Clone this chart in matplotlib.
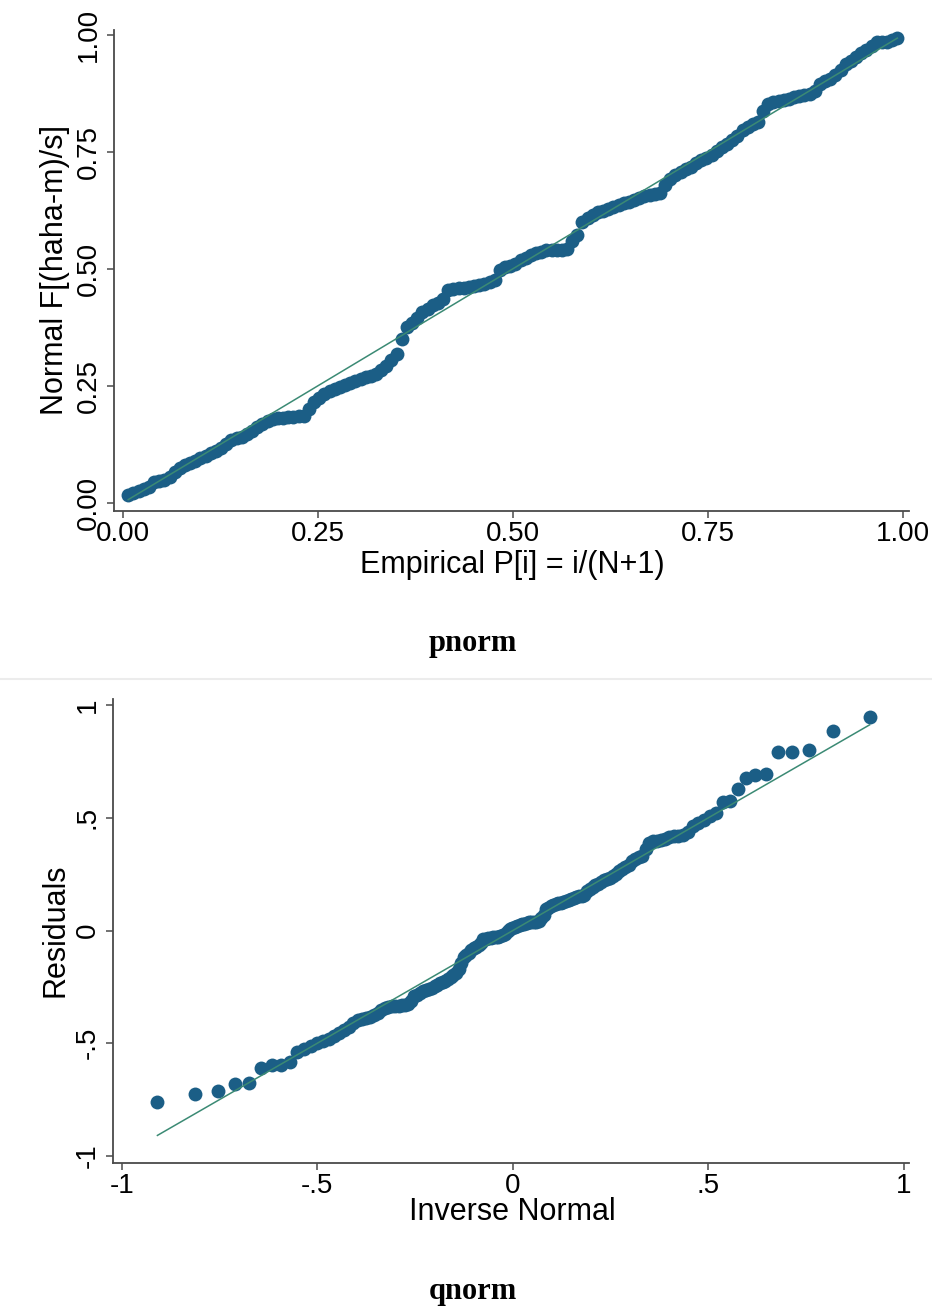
import numpy as np
import matplotlib
matplotlib.use("Agg")
import matplotlib.pyplot as plt
from matplotlib.lines import Line2D
from statistics import NormalDist

# ---------------- data ----------------
# pnorm: Normal F[(haha-m)/s] for observation i = 1..150 (sorted)
pnorm_f = [0.017, 0.020, 0.025, 0.030, 0.034, 0.045, 0.047, 0.049, 0.056, 0.066,
           0.074, 0.080, 0.084, 0.090, 0.095, 0.100, 0.106, 0.111, 0.118, 0.126,
           0.135, 0.139, 0.141, 0.146, 0.154, 0.161, 0.169, 0.175, 0.180, 0.182,
           0.182, 0.183, 0.184, 0.185, 0.186, 0.200, 0.216, 0.224, 0.232, 0.238,
           0.243, 0.247, 0.251, 0.256, 0.261, 0.264, 0.268, 0.272, 0.276, 0.283,
           0.293, 0.305, 0.318, 0.349, 0.376, 0.385, 0.395, 0.408, 0.415, 0.422,
           0.428, 0.435, 0.454, 0.457, 0.459, 0.460, 0.462, 0.463, 0.466, 0.468,
           0.471, 0.477, 0.498, 0.504, 0.507, 0.511, 0.518, 0.524, 0.529, 0.533,
           0.537, 0.540, 0.541, 0.541, 0.541, 0.543, 0.560, 0.572, 0.601, 0.608,
           0.616, 0.621, 0.624, 0.628, 0.632, 0.636, 0.640, 0.643, 0.647, 0.652,
           0.655, 0.658, 0.660, 0.663, 0.680, 0.692, 0.701, 0.707, 0.713, 0.718,
           0.726, 0.733, 0.737, 0.743, 0.752, 0.760, 0.768, 0.776, 0.785, 0.796,
           0.804, 0.809, 0.815, 0.838, 0.853, 0.857, 0.859, 0.861, 0.864, 0.867,
           0.870, 0.872, 0.874, 0.880, 0.895, 0.902, 0.907, 0.915, 0.925, 0.937,
           0.945, 0.954, 0.962, 0.968, 0.976, 0.985, 0.986, 0.986, 0.990, 0.993]

# qnorm: sorted residuals
residuals = [-0.762, -0.723, -0.712, -0.680, -0.675, -0.608, -0.597, -0.596, -0.585, -0.540,
             -0.525, -0.512, -0.500, -0.490, -0.480, -0.466, -0.455, -0.443, -0.428, -0.412,
             -0.399, -0.393, -0.388, -0.382, -0.376, -0.366, -0.354, -0.345, -0.338, -0.335,
             -0.334, -0.333, -0.332, -0.330, -0.328, -0.311, -0.292, -0.285, -0.278, -0.268,
             -0.262, -0.258, -0.253, -0.247, -0.240, -0.233, -0.229, -0.222, -0.216, -0.208,
             -0.198, -0.188, -0.172, -0.143, -0.117, -0.108, -0.098, -0.085, -0.078, -0.071,
             -0.064, -0.057, -0.039, -0.036, -0.034, -0.033, -0.031, -0.030, -0.027, -0.025,
             -0.022, -0.017, 0.000, 0.008, 0.011, 0.014, 0.019, 0.023, 0.027, 0.031,
             0.035, 0.037, 0.038, 0.038, 0.039, 0.041, 0.056, 0.070, 0.094, 0.101,
             0.109, 0.114, 0.117, 0.121, 0.124, 0.128, 0.133, 0.136, 0.140, 0.145,
             0.148, 0.151, 0.153, 0.156, 0.173, 0.185, 0.195, 0.201, 0.208, 0.213,
             0.222, 0.230, 0.234, 0.241, 0.252, 0.262, 0.271, 0.281, 0.292, 0.306,
             0.317, 0.324, 0.332, 0.362, 0.388, 0.395, 0.399, 0.402, 0.407, 0.413,
             0.418, 0.421, 0.425, 0.435, 0.464, 0.478, 0.488, 0.507, 0.520, 0.569,
             0.576, 0.628, 0.675, 0.688, 0.692, 0.790, 0.793, 0.802, 0.886, 0.945]

p_ticks = [0.0, 0.25, 0.5, 0.75, 1.0]
p_ticklabels = ["0.00", "0.25", "0.50", "0.75", "1.00"]
q_ticks = [-1.0, -0.5, 0.0, 0.5, 1.0]
q_ticklabels = ["-1", "-.5", "0", ".5", "1"]

# ---------------- derived positions (as Stata computes them) ----------------
N = len(residuals)
p_emp = np.arange(1, N + 1) / (N + 1)
r = np.array(residuals)
m, s = r.mean(), r.std(ddof=1)
nd = NormalDist()
inv_norm = m + s * np.array([nd.inv_cdf(p) for p in p_emp])

# ---------------- style ----------------
MARK = "#1b5e86"
LINE = "#3b8a74"
AXC = "#4a4a4a"
SANS = ["Liberation Sans", "DejaVu Sans"]
SERIF = ["Liberation Serif", "DejaVu Serif"]
W, H = 932, 1311
MS = 100

fig = plt.figure(figsize=(W / 100, H / 100), dpi=100)
fig.patch.set_facecolor("white")


def style_axes(ax):
    for side in ("top", "right"):
        ax.spines[side].set_visible(False)
    for side in ("left", "bottom"):
        ax.spines[side].set_color(AXC)
        ax.spines[side].set_linewidth(1.3)
    ax.tick_params(axis="both", direction="out", length=5, width=1.1, color=AXC,
                   labelsize=20, labelcolor="black")
    ax.tick_params(axis="x", pad=2)
    ax.tick_params(axis="y", pad=4)
    for lab in ax.get_xticklabels() + ax.get_yticklabels():
        lab.set_fontfamily(SANS)
    for lab in ax.get_yticklabels():
        lab.set_rotation(90)
        lab.set_va("center")


# ---------- pnorm ----------
ax1 = fig.add_axes([114 / W, 1 - 511 / H, 795 / W, 481 / H])
ax1.scatter(p_emp, pnorm_f, s=MS, color=MARK, linewidths=0, zorder=2)
ax1.plot([p_emp[0], p_emp[-1]], [p_emp[0], p_emp[-1]], color=LINE, lw=1.1, zorder=3)
ax1.set_xlim(-0.0116, 1.0083)
ax1.set_ylim(-0.0177, 1.0107)
ax1.set_xticks(p_ticks, p_ticklabels)
ax1.set_yticks(p_ticks, p_ticklabels)
style_axes(ax1)

fig.text(512 / W, 1 - 565 / H, "Empirical P[i] = i/(N+1)", ha="center", va="center",
         fontsize=22, family=SANS)
fig.text(55 / W, 1 - 270 / H, "Normal F[(haha-m)/s]", ha="center", va="center",
         rotation=90, fontsize=22, family=SANS)
fig.text(473 / W, 1 - 643 / H, "pnorm", ha="center", va="center",
         fontsize=22, family=SERIF, fontweight="bold")

# separator between the two panels
fig.add_artist(Line2D([0, 1], [1 - 679 / H, 1 - 679 / H], transform=fig.transFigure,
                      color="#ececec", lw=1.5))

# ---------- qnorm ----------
ax2 = fig.add_axes([113 / W, 1 - 1163 / H, 796 / W, 464 / H])
ax2.scatter(inv_norm, residuals, s=MS, color=MARK, linewidths=0, zorder=2)
ax2.plot([inv_norm[0], inv_norm[-1]], [inv_norm[0], inv_norm[-1]], color=LINE, lw=1.1, zorder=3)
ax2.set_xlim(-1.0222, 1.0127)
ax2.set_ylim(-1.031, 1.0266)
ax2.set_xticks(q_ticks, q_ticklabels)
ax2.set_yticks(q_ticks, q_ticklabels)
style_axes(ax2)

fig.text(512 / W, 1 - 1212 / H, "Inverse Normal", ha="center", va="center",
         fontsize=22, family=SANS)
fig.text(55 / W, 1 - 930 / H, "Residuals", ha="center", va="center",
         rotation=90, fontsize=22, family=SANS)
fig.text(473 / W, 1 - 1292 / H, "qnorm", ha="center", va="center",
         fontsize=22, family=SERIF, fontweight="bold")

fig.savefig("out.png", dpi=100, facecolor="white")
